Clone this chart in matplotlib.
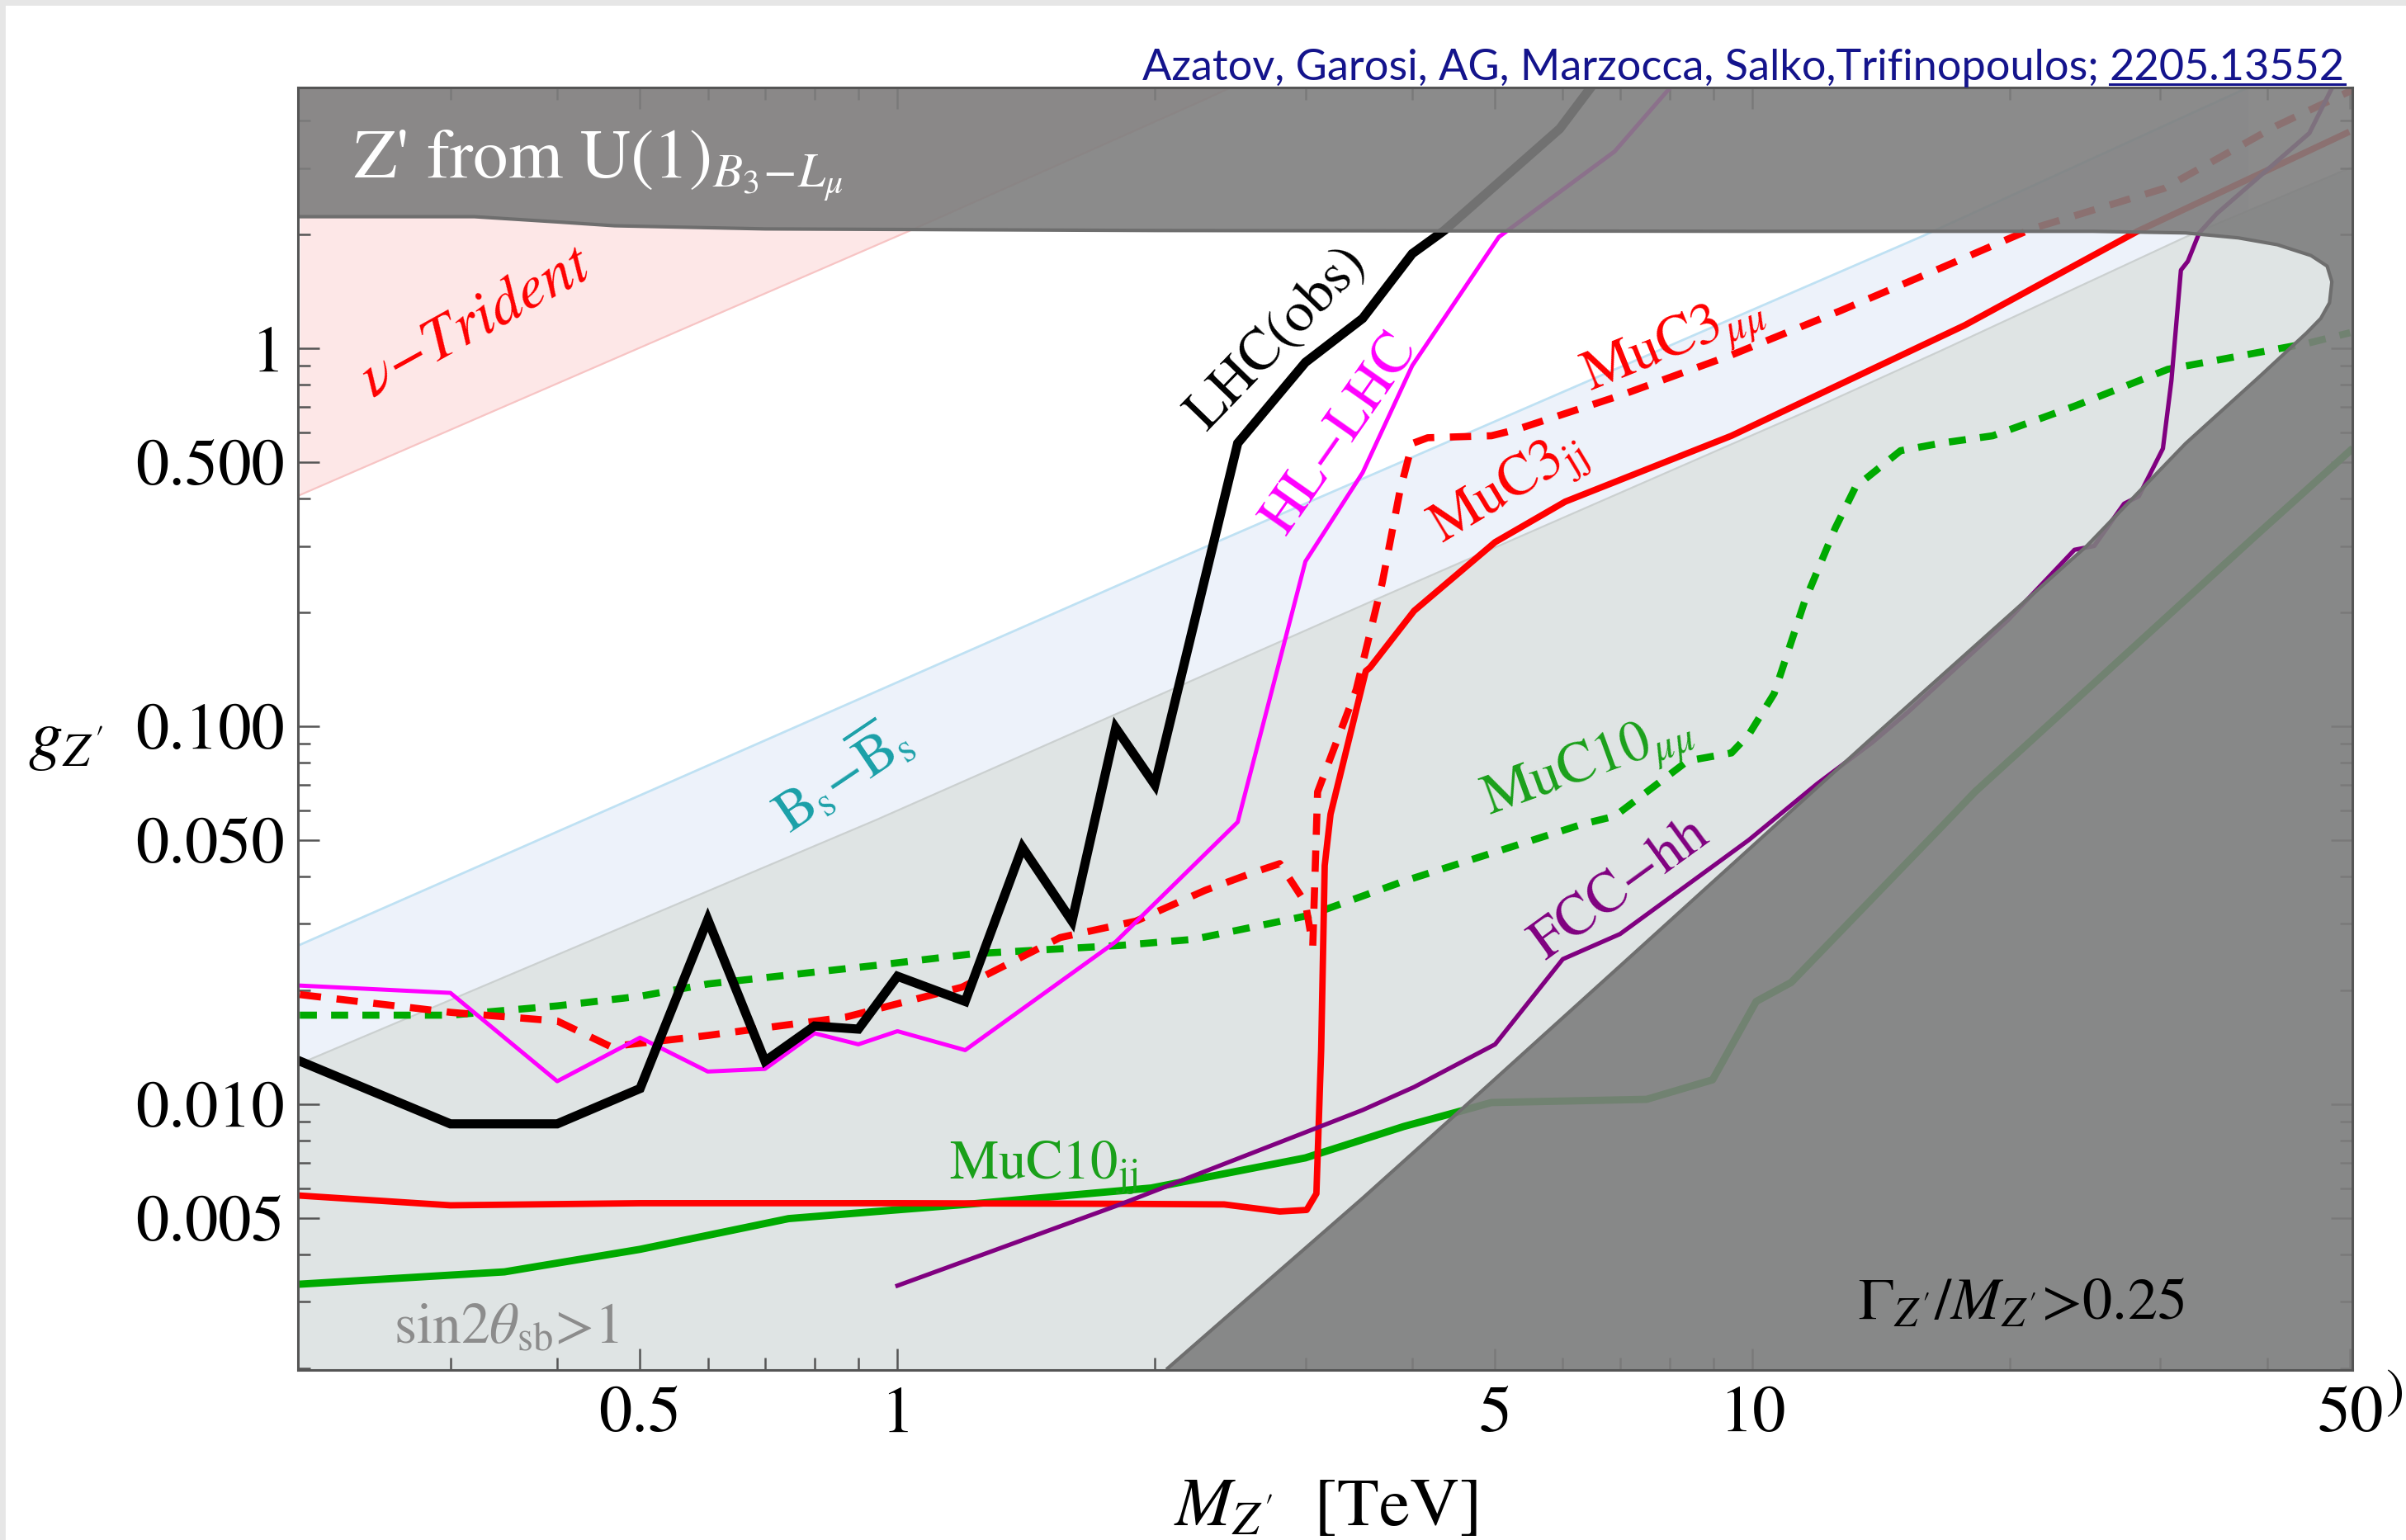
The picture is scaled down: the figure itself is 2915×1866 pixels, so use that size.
import matplotlib
matplotlib.use("Agg")
import matplotlib.pyplot as plt
from matplotlib.lines import Line2D
from matplotlib.patches import Rectangle
from matplotlib.ticker import NullFormatter

plt.rcParams["font.family"] = ["STIXGeneral", "DejaVu Serif"]
plt.rcParams["mathtext.fontset"] = "stix"

# ---------------- data ----------------
# LHC observed limit
lhc_M = [0.2, 0.3, 0.4, 0.5, 0.6, 0.7, 0.8, 0.9, 1.0, 1.2, 1.4, 1.6, 1.8, 2.0,
         2.5, 3.0, 3.5, 4.0, 4.36, 5.95, 6.6]
lhc_g = [0.0130, 0.00887, 0.00887, 0.0110, 0.0308, 0.0130, 0.0161, 0.0158,
         0.0218, 0.0187, 0.0478, 0.0305, 0.099, 0.070, 0.561, 0.918, 1.20,
         1.78, 2.05, 3.81, 5.2]

# HL-LHC projection
hl_M = [0.2, 0.3, 0.4, 0.5, 0.6, 0.7, 0.8, 0.9, 1.0, 1.2, 1.8, 2.5, 3.0, 3.5,
        4.0, 5.05, 6.9, 8.2]
hl_g = [0.0206, 0.0197, 0.0115, 0.0150, 0.0122, 0.0124, 0.0154, 0.0144,
        0.0156, 0.0139, 0.0269, 0.0558, 0.273, 0.469, 0.90, 1.97, 3.32, 5.2]

# 3 TeV muon collider, mu mu final state
mumu3_M = [0.2, 0.3, 0.4, 0.462, 0.6, 0.87, 1.19, 1.55, 1.90, 2.29, 2.63, 2.80,
           3.0, 3.06, 3.10, 3.44, 3.69, 3.87, 4.0, 4.17, 4.95, 5.3, 7.0, 9.45,
           12.7, 16.6, 21.2, 30.3, 41.0, 52.0]
mumu3_g = [0.0195, 0.0175, 0.0166, 0.0142, 0.0152, 0.0170, 0.0204, 0.0276,
           0.0305, 0.0368, 0.0413, 0.0433, 0.0341, 0.0262, 0.067, 0.125, 0.24,
           0.42, 0.56, 0.58, 0.587, 0.61, 0.75, 0.96, 1.26, 1.63, 2.07, 2.65,
           3.88, 5.0]

# 3 TeV muon collider, dijet final state
jj3_M = [0.2, 0.3, 0.5, 1.0, 1.8, 2.41, 2.8, 3.01, 3.09, 3.13, 3.16, 3.21,
         3.53, 3.57, 4.02, 5.0, 6.04, 9.45, 12.7, 17.7, 28.2, 49.5]
jj3_g = [0.00573, 0.0054, 0.00547, 0.00547, 0.00545, 0.00543, 0.00520,
         0.00525, 0.0058, 0.0139, 0.0428, 0.0585, 0.14, 0.143, 0.202, 0.307,
         0.393, 0.587, 0.806, 1.15, 2.04, 3.71]

# 10 TeV muon collider, mu mu final state
mumu10_M = [0.2, 0.3, 0.4, 0.5, 0.6, 0.944, 1.226, 1.82, 2.22, 3.03, 3.91,
            6.35, 6.9, 8.4, 9.45, 9.9, 10.6, 11.5, 12.5, 13.2, 14.9, 16.6,
            19.1, 23.8, 30.6, 44.5, 50.0]
mumu10_g = [0.0172, 0.0172, 0.0182, 0.0193, 0.0208, 0.0233, 0.0250, 0.0263,
            0.0273, 0.0316, 0.0389, 0.0552, 0.0578, 0.081, 0.085, 0.095,
            0.122, 0.213, 0.335, 0.43, 0.536, 0.561, 0.587, 0.703, 0.88,
            1.03, 1.1]

# 10 TeV muon collider, dijet final state
jj10_M = [0.2, 0.347, 0.5, 0.746, 0.944, 1.226, 1.98, 3.0, 3.91, 4.49, 4.95,
          7.52, 8.98, 10.1, 11.1, 16.6, 18.2, 38.7, 50.0]
jj10_g = [0.00334, 0.0036, 0.00413, 0.00498, 0.0052, 0.00545, 0.0060,
          0.00721, 0.00873, 0.0095, 0.0101, 0.0103, 0.0116, 0.0187, 0.021,
          0.0539, 0.067, 0.318, 0.536]

# FCC-hh projection
fcc_M = [1.0, 1.81, 3.5, 4.02, 5.0, 6.0, 7.0, 9.9, 11.9, 13.8, 15.2, 19.9,
         23.8, 25.1, 27.2, 28.3, 30.2, 30.9, 31.7, 32.3, 33.3, 34.9, 44.8, 47.6]
fcc_g = [0.00331, 0.0054, 0.00965, 0.0111, 0.0144, 0.0242, 0.0282, 0.0500,
         0.0704, 0.0905, 0.109, 0.191, 0.293, 0.30, 0.388, 0.406, 0.543,
         0.822, 1.61, 1.70, 2.02, 2.27, 3.71, 4.88]

# neutrino trident bound (excluded above)
tri_M = [0.2, 1.03, 2.29, 2.5]
tri_g = [0.409, 2.04, 4.56, 5.0]

# Bs mixing bound (excluded above)
bs_M = [0.2, 2.29, 15.8, 38.0]
bs_g = [0.0264, 0.298, 1.98, 4.9]

# sin(2 theta_sb) > 1 (below this line)
sb_M = [0.2, 0.944, 3.5, 11.9, 16.6, 32.1, 50.0]
sb_g = [0.0128, 0.0565, 0.209, 0.70, 0.985, 1.97, 3.0]

# Gamma/M > 0.25 boundary (excluded outside)
wide_M = [0.2, 0.32, 0.40, 0.467, 0.70, 2.0, 10.0, 25.0, 32.1, 37.0, 41.1,
          45.0, 47.0, 47.6, 47.3, 46.2, 44.5, 39.2, 32.1, 24.6, 13.6, 7.0,
          4.57, 3.5, 2.07]
wide_g = [2.23, 2.23, 2.16, 2.11, 2.07, 2.05, 2.04, 2.04, 2.02, 1.96, 1.88,
          1.76, 1.65, 1.50, 1.32, 1.20, 1.10, 0.843, 0.56, 0.30, 0.0905,
          0.0232, 0.0097, 0.00564, 0.002]

x_major = [0.5, 1, 5, 10, 50]
x_major_labels = ["0.5", "1", "5", "10", "50"]
x_minor = [0.3, 0.4, 0.6, 0.7, 0.8, 0.9, 2, 3, 4, 6, 7, 8, 9, 20, 30, 40]
y_major = [0.005, 0.01, 0.05, 0.1, 0.5, 1]
y_major_labels = ["0.005", "0.010", "0.050", "0.100", "0.500", "1"]
y_minor = [0.002, 0.003, 0.004, 0.006, 0.007, 0.008, 0.009, 0.02, 0.03, 0.04,
           0.06, 0.07, 0.08, 0.09, 0.2, 0.3, 0.4, 0.6, 0.7, 0.8, 0.9, 2, 3, 4]

# ---------------- figure ----------------
W, H = 2915, 1866
fig = plt.figure(figsize=(W / 200, H / 200), dpi=200, facecolor="white")
fig.patches.append(Rectangle((0, 1 - 5 / H), 1, 5 / H, transform=fig.transFigure,
                             color="#e6e6e6", zorder=0))
fig.patches.append(Rectangle((0, 0), 5 / W, 1, transform=fig.transFigure,
                             color="#e6e6e6", zorder=0))

ax = fig.add_axes([361 / W, 1 - 1660 / H, (2850 - 361) / W, (1660 - 106) / H])
ax.set_xscale("log")
ax.set_yscale("log")
xlo, xhi = 0.199, 50.3
ylo, yhi = 0.00198, 4.9
ax.set_xlim(xlo, xhi)
ax.set_ylim(ylo, yhi)

# shaded regions
ax.fill_between(tri_M, tri_g, 10, color="#fde7e7", lw=0, zorder=1)
ax.plot(tri_M, tri_g, color="#f7c4c4", lw=0.8, zorder=1.1)
ax.fill_between(bs_M, 1e-4, bs_g, color="#edf2fa", lw=0, zorder=1.2)
ax.plot(bs_M, bs_g, color="#bfe1f3", lw=1.0, zorder=1.3)
ax.fill_between(sb_M, 1e-4, sb_g, color="#dfe4e4", lw=0, zorder=1.4)
ax.plot(sb_M, sb_g, color="#cbd0d0", lw=0.8, zorder=1.5)

# limit curves
ax.plot(jj10_M, jj10_g, color="#00aa00", lw=3.2, zorder=3)
ax.plot(mumu10_M, mumu10_g, color="#00aa00", lw=3.1, dashes=(2.4, 2.0), zorder=3)
ax.plot(jj3_M, jj3_g, color="#ff0000", lw=2.8, zorder=3.1)
ax.plot(mumu3_M, mumu3_g, color="#ff0000", lw=3.1, dashes=(3.0, 2.2), zorder=3.1)
ax.plot(fcc_M, fcc_g, color="#800080", lw=1.9, zorder=3.2)
ax.plot(hl_M, hl_g, color="#ff00ff", lw=1.8, zorder=3.3)
ax.plot(lhc_M, lhc_g, color="black", lw=4.0, solid_joinstyle="miter", zorder=3.4)

# broad-resonance region drawn as a translucent overlay
poly_M = list(wide_M) + [wide_M[-1], xhi * 2, xhi * 2, xlo * 0.5, xlo * 0.5]
poly_g = list(wide_g) + [ylo * 0.5, ylo * 0.5, yhi * 2, yhi * 2, wide_g[0]]
ax.fill(poly_M, poly_g, color="#7e7e7e", alpha=0.9, lw=0, zorder=5)
ax.plot(wide_M, wide_g, color="#6e6e6e", lw=1.5, zorder=5.1)

# labels inside the plot
tk = dict(zorder=6, rotation_mode="anchor", ha="center", va="center")
ax.text(0.2309, 2.82, r"Z' from U(1)$_{B_3\!-\!L_\mu}$", color="white",
        fontsize=30.5, ha="left", va="baseline", zorder=6)
ax.text(0.321, 1.17, "ν−Trident", color="#ff0000", fontsize=27,
        style="italic", rotation=29, **tk)
ax.text(0.86, 0.074, r"$\mathrm{B_s}$−$\mathrm{\overline{B}_s}$",
        color="#1aa0a8", fontsize=25, rotation=34, **tk)
ax.text(2.78, 1.06, "LHC(obs)", color="black", fontsize=25, rotation=46, **tk)
ax.text(3.30, 0.593, "HL−LHC", color="#ff00ff", fontsize=25, rotation=55, **tk)
ax.text(8.1, 1.02, r"MuC3$_{\mu\mu}$", color="#ff0000", fontsize=25,
        rotation=22, **tk)
ax.text(5.18, 0.42, r"MuC3$_{\rm jj}$", color="#ff0000", fontsize=25,
        rotation=31, **tk)
ax.text(6.43, 0.078, r"MuC10$_{\mu\mu}$", color="#1aa01a", fontsize=25,
        rotation=20, **tk)
ax.text(7.0, 0.037, "FCC−hh", color="#800080", fontsize=25, rotation=36, **tk)
ax.text(1.15, 0.00636, r"MuC10$_{\rm jj}$", color="#1aa01a", fontsize=24,
        ha="left", va="baseline", zorder=6)
ax.text(0.2574, 0.00233, r"sin2$\theta_{\rm sb}$>1", color="#8c8c8c",
        fontsize=25, ha="left", va="baseline", zorder=6)
ax.text(13.27, 0.0027, r"$\Gamma_{Z'}/M_{Z'}$>0.25", color="black",
        fontsize=26, ha="left", va="baseline", zorder=6)

# axes styling
ax.set_xticks(x_major, x_major_labels)
ax.set_xticks(x_minor, minor=True)
ax.set_yticks(y_major, y_major_labels)
ax.set_yticks(y_minor, minor=True)
ax.xaxis.set_minor_formatter(NullFormatter())
ax.yaxis.set_minor_formatter(NullFormatter())
ax.tick_params(which="both", direction="in", top=True, right=True,
               color="#555555", width=0.9, labelsize=29, zorder=7)
ax.tick_params(which="major", length=9.2)
ax.tick_params(which="minor", length=5.4)
ax.tick_params(axis="y", which="both", pad=6)
ax.tick_params(axis="x", which="both", pad=7)
for s in ax.spines.values():
    s.set_color("#555555")
    s.set_linewidth(1.1)
    s.set_zorder(8)

ax.set_ylabel(r"$g_{Z'}$", rotation=0, fontsize=30, ha="center", va="center")
ax.yaxis.set_label_coords(-0.113, 0.489)
ax.set_xlabel(r"$M_{Z'}$  [TeV]", fontsize=30, ha="center", va="center")
ax.xaxis.set_label_coords(0.5, -0.109)

# cropped closing bracket at the right edge
fig.text(2890 / W, 1 - 1690 / H, ")", fontsize=24, ha="left", va="center")

# reference line at the top
navy = "#14148c"
cite_num = fig.text(2841 / W, 1 - 97 / H, "2205.13552", ha="right",
                    va="baseline", fontsize=18.8, family="Lato", color=navy)
fig.canvas.draw()
rend = fig.canvas.get_renderer()
bb = cite_num.get_window_extent(rend)
fig.text((bb.x0 - 13) / W, 1 - 97 / H,
         "Azatov, Garosi, AG, Marzocca, Salko,Trifinopoulos;",
         ha="right", va="baseline", fontsize=18.8, family="Lato", color=navy)
fig.add_artist(Line2D([bb.x0 / W, bb.x1 / W], [1 - 102 / H, 1 - 102 / H],
                      transform=fig.transFigure, color=navy, lw=1.1))

fig.savefig("out.png", dpi=200, facecolor="white")
